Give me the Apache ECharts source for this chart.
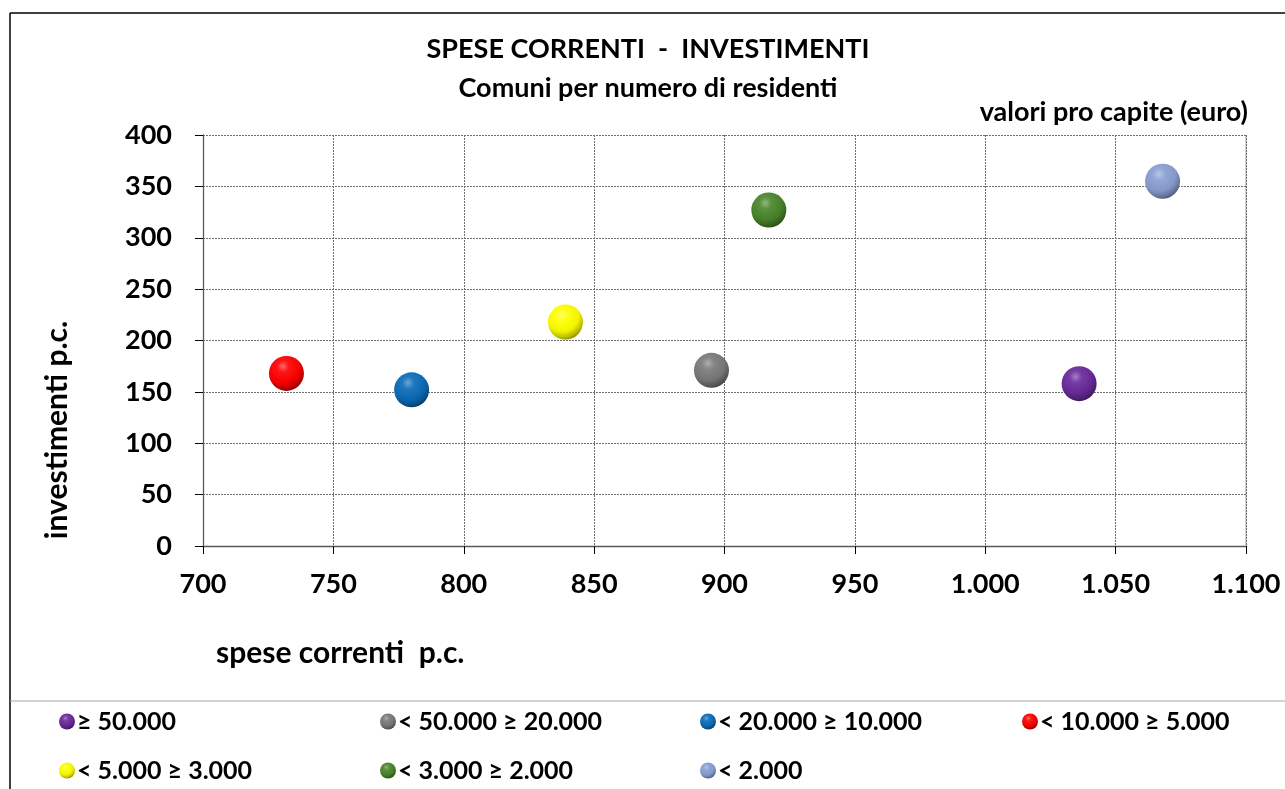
<!DOCTYPE html>
<html>
<head>
<meta charset="utf-8">
<script src="https://cdn.jsdelivr.net/npm/echarts@6/dist/echarts.min.js"></script>
<style>
  html, body { margin: 0; padding: 0; background: #ffffff; }
  #chart { width: 1285px; height: 789px; }
</style>
</head>
<body>
<div id="chart"></div>
<script>
// Classi di comuni per numero di residenti
const classi = ['≥ 50.000', '< 50.000 ≥ 20.000', '< 20.000 ≥ 10.000', '< 10.000 ≥ 5.000',
                '< 5.000 ≥ 3.000', '< 3.000 ≥ 2.000', '< 2.000'];
// Spese correnti pro capite (euro)
const speseCorrenti = [1036, 895, 780, 732, 839, 917, 1068];
// Investimenti pro capite (euro)
const investimenti = [158, 171, 152, 168, 218, 327, 355];
// Colori base delle sfere
const colori = ['#6A2A9C', '#7A7A7A', '#0A6CB8', '#FF0000', '#FFFF00', '#4A862A', '#8A9FD3'];
// Tacche degli assi
const xTicks = { min: 700, max: 1100, step: 50 };
const yTicks = { min: 0, max: 400, step: 50 };

const FONT = 'Lato, "Open Sans", sans-serif';

function shade(hex, f) {
  const n = parseInt(hex.slice(1), 16);
  let r = (n >> 16) & 255, g = (n >> 8) & 255, b = n & 255;
  if (f >= 0) { r += (255 - r) * f; g += (255 - g) * f; b += (255 - b) * f; }
  else { r *= 1 + f; g *= 1 + f; b *= 1 + f; }
  return 'rgb(' + Math.round(r) + ',' + Math.round(g) + ',' + Math.round(b) + ')';
}

// Sfera con riflesso in alto a sinistra e bordo scuro in basso a destra
function sfera(c) {
  return {
    type: 'radial', x: 0.4, y: 0.3, r: 0.8,
    colorStops: [
      { offset: 0, color: shade(c, 0.4) },
      { offset: 0.22, color: shade(c, 0.08) },
      { offset: 0.6, color: shade(c, -0.05) },
      { offset: 0.82, color: shade(c, -0.3) },
      { offset: 1, color: shade(c, -0.65) }
    ]
  };
}

function migliaia(v) {
  return String(v).replace(/\B(?=(\d{3})+(?!\d))/g, '.');
}

const series = classi.map((nome, i) => ({
  name: nome,
  type: 'scatter',
  symbol: 'circle',
  symbolSize: 35,
  data: [[speseCorrenti[i], investimenti[i]]],
  itemStyle: { color: sfera(colori[i]), opacity: 1 }
}));

// Legenda su due righe, quattro colonne
const colX = [59, 380, 700, 1022];
const rowY = [709, 758];
const legends = classi.map((nome, i) => ({
  data: [nome],
  left: colX[i % 4],
  top: rowY[Math.floor(i / 4)],
  icon: 'circle',
  itemWidth: 16,
  itemHeight: 16,
  itemGap: 0,
  padding: 0,
  selectedMode: false,
  itemStyle: { opacity: 1 },
  textStyle: { fontFamily: FONT, fontWeight: 'bold', fontSize: 25, color: '#000', padding: [0, 0, 0, -3] }
}));

const chart = echarts.init(document.getElementById('chart'), null, { renderer: 'canvas' });
chart.setOption({
  animation: false,
  backgroundColor: '#ffffff',
  title: {
    text: 'SPESE CORRENTI  -  INVESTIMENTI\nComuni per numero di residenti',
    left: 643, top: 25, textAlign: 'center',
    textStyle: { fontFamily: FONT, fontWeight: 'bold', fontSize: 27, lineHeight: 39, color: '#000' }
  },
  legend: legends,
  grid: { left: 203, right: 39, top: 135, bottom: 243, containLabel: false },
  xAxis: {
    type: 'value',
    min: xTicks.min, max: xTicks.max, interval: xTicks.step,
    axisLine: { show: true, lineStyle: { color: '#595959', width: 1.3 } },
    axisTick: { show: true, length: 8, lineStyle: { color: '#000' } },
    axisLabel: { margin: 25, fontFamily: FONT, fontWeight: 'bold', fontSize: 27, color: '#000',
                 formatter: migliaia },
    splitLine: { show: true, lineStyle: { color: '#6e6e6e', type: [2, 1], width: 1 } }
  },
  yAxis: {
    type: 'value',
    min: yTicks.min, max: yTicks.max, interval: yTicks.step,
    axisLine: { show: true, lineStyle: { color: '#595959', width: 1.3 } },
    axisTick: { show: true, length: 8, lineStyle: { color: '#000' } },
    axisLabel: { margin: 31, fontFamily: FONT, fontWeight: 'bold', fontSize: 27, color: '#000' },
    splitLine: { show: true, lineStyle: { color: '#6e6e6e', type: [2, 1], width: 1 } }
  },
  graphic: [
    { type: 'line', shape: { x1: 10, y1: 13, x2: 1285, y2: 13 }, style: { stroke: '#000', lineWidth: 1.5 } },
    { type: 'line', shape: { x1: 10, y1: 13, x2: 10, y2: 789 }, style: { stroke: '#000', lineWidth: 1.5 } },
    { type: 'line', shape: { x1: 10, y1: 701, x2: 1285, y2: 701 }, style: { stroke: '#a6a6a6', lineWidth: 1 } },
    { type: 'line', shape: { x1: 1246, y1: 135, x2: 1246, y2: 546 }, style: { stroke: '#a6a6a6', lineWidth: 1 } },
    { type: 'text', x: 1248, y: 112,
      style: { text: 'valori pro capite (euro)', x: 0, y: 0, align: 'right', verticalAlign: 'middle',
               font: 'bold 27px ' + FONT, fill: '#000' } },
    { type: 'text', x: 216, y: 653,
      style: { text: 'spese correnti  p.c.', x: 0, y: 0, verticalAlign: 'middle',
               font: 'bold 30px ' + FONT, fill: '#000' } },
    { type: 'text', x: 57, y: 430, rotation: Math.PI / 2,
      style: { text: 'investimenti p.c.', x: 0, y: 0, align: 'center', verticalAlign: 'middle',
               font: 'bold 30px ' + FONT, fill: '#000' } }
  ],
  series: series
});
</script>
</body>
</html>
